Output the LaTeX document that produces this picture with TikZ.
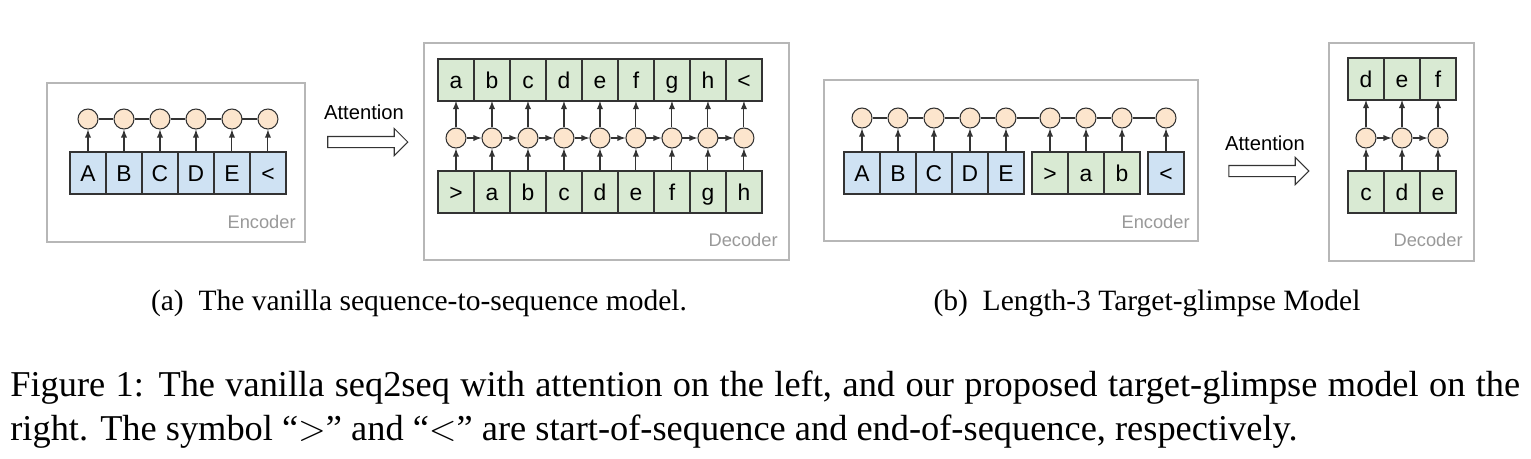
\documentclass[tikz,border=0pt]{standalone}
\usepackage{fontspec}
\setmainfont{Liberation Serif}
\newfontfamily\diagFont{Liberation Sans}
\usetikzlibrary{positioning,shapes.arrows}
\definecolor{encCol}{HTML}{CFE2F3}
\definecolor{decCol}{HTML}{D9EAD3}
\definecolor{hidCol}{HTML}{FCE5CD}
\definecolor{lineCol}{HTML}{333333}
\definecolor{frameCol}{HTML}{B7B7B7}
\definecolor{labelCol}{HTML}{999999}
\tikzset{myCell/.style={draw=lineCol, line width=0.7pt, minimum width=0.72cm, minimum height=0.84cm, inner sep=0pt, outer sep=0pt, text height=9.4pt, text depth=0pt, font=\diagFont\fontsize{13}{15}\selectfont}}
\tikzset{encCell/.style={myCell, fill=encCol}}
\tikzset{decCell/.style={myCell, fill=decCol}}
\tikzset{myHid/.style={circle, draw=lineCol, line width=0.6pt, fill=hidCol, minimum size=0.4cm, inner sep=0pt}}
\tikzset{myFrame/.style={draw=frameCol, line width=0.6pt}}
\tikzset{myLabel/.style={anchor=east, inner sep=0pt, text=labelCol, font=\diagFont\fontsize{10.4}{12}\selectfont}}
\tikzset{myLink/.style={line width=0.6pt, color=lineCol}}
\tikzset{myArrow/.style={myLink, -latex}}
\tikzset{attArrow/.style={single arrow, draw=lineCol, line width=0.6pt, minimum height=1.6cm, single arrow head extend=0.16cm, inner sep=0.1cm}}
\tikzset{attText/.style={inner sep=0pt, font=\diagFont\fontsize{11.5}{13}\selectfont}}

\begin{document}
\begin{tikzpicture}[x=0.02cm, y=-0.02cm]
		\useasboundingbox (0,0) rectangle (1531,458);
		% (a) encoder
		\draw[myFrame] (47,83) rectangle (305,242);
		\coordinate (rowEA) at (0,119);
		\node[encCell, anchor=west] (eA1) at (70,173) {A};
		\foreach \t [count=\i from 2, evaluate=\i as \j using int(\i-1)] in {B,C,D,E,<}
			\node[encCell, right=0pt of eA\j] (eA\i) {\t};
		\foreach \i in {1,...,6}{
			\node[myHid] (hA\i) at (eA\i |- rowEA) {};
			\draw[myArrow] (eA\i) -- (hA\i);
		}
		\foreach \i [count=\j from 1] in {2,...,6}
			\draw[myLink] (hA\j) -- (hA\i);
		\node[myLabel] (encA) at (296,222) {Encoder};

		% attention (a)
		\node[attText] (attTxtA) at (364,112) {Attention};
		\node[attArrow] (attA) at (365,142) {};

		% (a) decoder
		\draw[myFrame] (424,43) rectangle (789,260);
		\coordinate (rowDA) at (0,138);
		\node[decCell, anchor=west] (dT1) at (438,80) {a};
		\node[decCell, anchor=west] (dB1) at (438,192) {>};
		\foreach \t [count=\i from 2, evaluate=\i as \j using int(\i-1)] in {b,c,d,e,f,g,h,<}
			\node[decCell, right=0pt of dT\j] (dT\i) {\t};
		\foreach \t [count=\i from 2, evaluate=\i as \j using int(\i-1)] in {a,b,c,d,e,f,g,h}
			\node[decCell, right=0pt of dB\j] (dB\i) {\t};
		\foreach \i in {1,...,9}{
			\node[myHid] (hD\i) at (dB\i |- rowDA) {};
			\draw[myArrow] (dB\i) -- (hD\i);
			\draw[myArrow] (hD\i) -- (dT\i);
		}
		\foreach \i [count=\j from 1] in {2,...,9}
			\draw[myArrow] (hD\j) -- (hD\i);
		\node[myLabel] (decA) at (778,240) {Decoder};

		% (b) encoder
		\draw[myFrame] (824,80) rectangle (1198,241);
		\coordinate (rowEB) at (0,118);
		\node[encCell, anchor=west] (eB1) at (844,173) {A};
		\foreach \t [count=\i from 2, evaluate=\i as \j using int(\i-1)] in {B,C,D,E}
			\node[encCell, right=0pt of eB\j] (eB\i) {\t};
		\node[decCell, anchor=west] (eB6) at (1032,173) {>};
		\node[decCell, right=0pt of eB6] (eB7) {a};
		\node[decCell, right=0pt of eB7] (eB8) {b};
		\node[encCell, anchor=west] (eB9) at (1148,173) {<};
		\foreach \i in {1,...,9}{
			\node[myHid] (hB\i) at (eB\i |- rowEB) {};
			\draw[myArrow] (eB\i) -- (hB\i);
		}
		\foreach \i [count=\j from 1] in {2,...,9}
			\draw[myLink] (hB\j) -- (hB\i);
		\node[myLabel] (encB) at (1190,222) {Encoder};

		% attention (b)
		\node[attText] (attTxtB) at (1265,143) {Attention};
		\node[attArrow] (attB) at (1266,171) {};

		% (b) decoder
		\draw[myFrame] (1329,43) rectangle (1474,261);
		\coordinate (rowDB) at (0,138);
		\node[decCell, anchor=west] (dF1) at (1348,79) {d};
		\node[decCell, anchor=west] (dG1) at (1348,192) {c};
		\node[decCell, right=0pt of dF1] (dF2) {e};
		\node[decCell, right=0pt of dF2] (dF3) {f};
		\node[decCell, right=0pt of dG1] (dG2) {d};
		\node[decCell, right=0pt of dG2] (dG3) {e};
		\foreach \i in {1,2,3}{
			\node[myHid] (hG\i) at (dG\i |- rowDB) {};
			\draw[myArrow] (dG\i) -- (hG\i);
			\draw[myArrow] (hG\i) -- (dF\i);
		}
		\draw[myArrow] (hG1) -- (hG2);
		\draw[myArrow] (hG2) -- (hG3);
		\node[myLabel] (decB) at (1463,240) {Decoder};

		% captions
		\node[anchor=base, inner sep=0pt, font=\fontsize{16.8}{20}\selectfont] (capA) at (419,310) {(a)\enspace The vanilla sequence-to-sequence model.};
		\node[anchor=base, inner sep=0pt, font=\fontsize{16.8}{20}\selectfont] (capB) at (1147,310) {(b)\enspace Length-3 Target-glimpse Model};
		\node[anchor=base west, inner sep=0pt, font=\fontsize{20.7}{25}\selectfont] (capL1) at (10,396) {\makebox[30.2cm][s]{Figure 1: The vanilla seq2seq with attention on the left, and our proposed target-glimpse model on the}};
		\node[anchor=base west, inner sep=0pt, font=\fontsize{20.7}{25}\selectfont] (capL2) at (10,440) {right. The symbol ``$>$'' and ``$<$'' are start-of-sequence and end-of-sequence, respectively.};
\end{tikzpicture}
\end{document}
